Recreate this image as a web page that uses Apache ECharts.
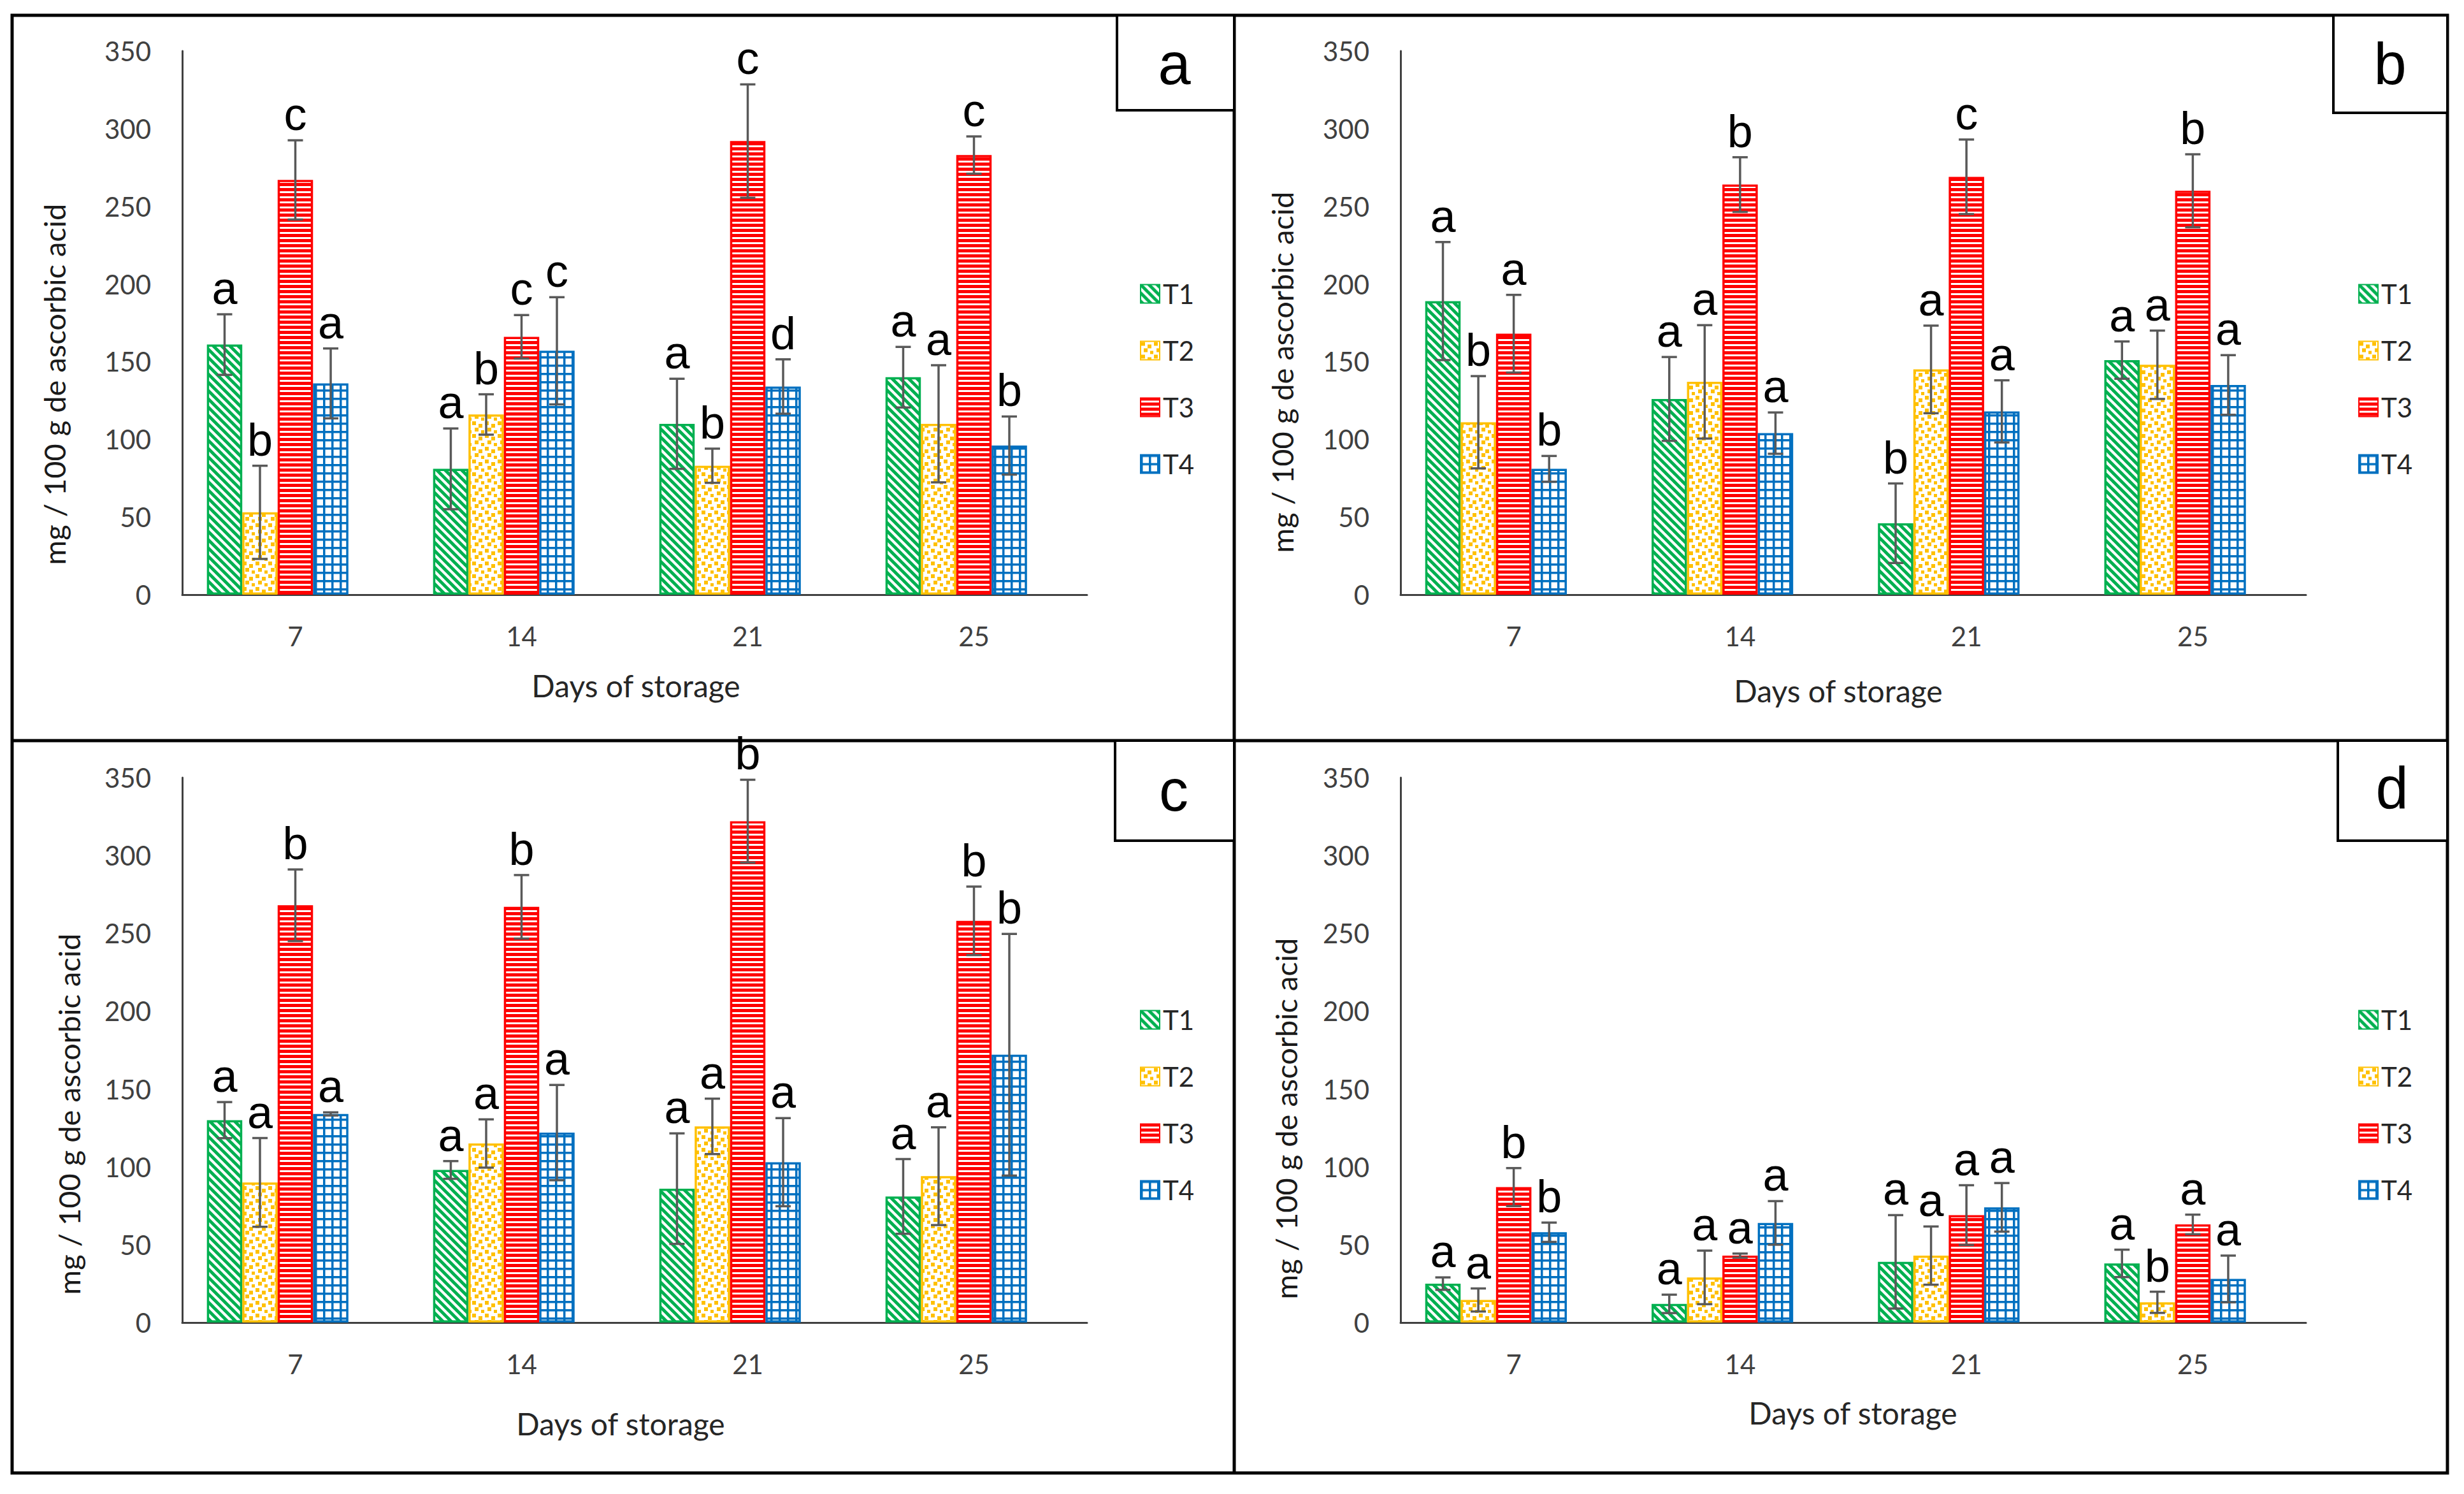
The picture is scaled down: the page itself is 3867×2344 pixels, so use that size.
<!DOCTYPE html>
<html><head><meta charset="utf-8">
<script src="https://cdn.jsdelivr.net/npm/echarts@6/dist/echarts.min.js"></script>
<style>html,body{margin:0;padding:0;background:#fff;overflow:hidden}#c{width:3867px;height:2344px}</style>
</head><body><div id="c"></div>
<script>
// ---------------- DATA ----------------
const days = ['7', '14', '21', '25'];
const treatments = ['T1', 'T2', 'T3', 'T4'];
const panelLetters = ['a', 'b', 'c', 'd'];
const yMin = 0, yMax = 350, yStep = 50;
const yAxisTitle = 'mg / 100 g de ascorbic acid';
const xAxisTitle = 'Days of storage';

// rows = T1..T4, columns = days 7,14,21,25
const panelA_values = [[161, 81, 110, 140], [53, 116, 83, 110], [267, 166, 292, 283], [136, 157, 134, 96]];
const panelA_errors = [[19.5, 26, 29, 19.5], [30, 13, 11, 37.7], [25.5, 14, 36.5, 12], [22.5, 34.5, 17.5, 18.7]];
const panelA_letters = [['a','a','a','a'], ['b','b','b','a'], ['c','c','c','c'], ['a','c','d','b']];

const panelB_values = [[189, 126, 46, 151], [111, 137, 145, 148], [168, 264, 269, 260], [81, 104, 118, 135]];
const panelB_errors = [[38, 27, 25.6, 12], [29.7, 36.5, 28.2, 22], [25, 17.6, 24, 23.5], [8.3, 13.3, 20, 19.2]];
const panelB_letters = [['a','a','b','a'], ['b','a','a','a'], ['a','b','c','b'], ['b','a','a','a']];

const panelC_values = [[130, 98, 86, 81], [90, 115, 126, 94], [268, 267, 322, 258], [134, 122, 103, 172]];
const panelC_errors = [[11.6, 5.7, 35.5, 24], [28.5, 15.5, 17.8, 31.4], [23, 20.4, 26.6, 22], [1, 30.6, 28.3, 77.6]];
const panelC_letters = [['a','a','a','a'], ['a','a','a','a'], ['b','b','b','b'], ['a','a','a','b']];

const panelD_values = [[25, 12, 39, 38], [14.5, 29, 43, 13], [87, 43, 69, 63], [58, 64, 74, 28]];
const panelD_errors = [[4, 5.9, 30, 8.8], [7.4, 17.2, 18.7, 6.8], [12.2, 1.3, 19.2, 6.3], [6.2, 14, 15.6, 15]];
const panelD_letters = [['a','a','a','a'], ['a','a','a','b'], ['b','a','a','a'], ['b','a','a','a']];

// ---------------- STYLE / LAYOUT ----------------
const VALUES = [panelA_values, panelB_values, panelC_values, panelD_values];
const ERRORS = [panelA_errors, panelB_errors, panelC_errors, panelD_errors];
const LETTERS = [panelA_letters, panelB_letters, panelC_letters, panelD_letters];

const SANS = 'Lato';
const ARIAL = '"Liberation Sans", Arial';
const COLORS = ['#00B050', '#FFC000', '#FF0000', '#0070C0'];
const SLOTS = 5;          // original chart reserves an empty 5th slot per group
const CAT_GAP = 0.218;

const GRIDS = [
  {left: 286, top: 80, width: 1420, height: 853},
  {left: 2198, top: 80, width: 1421, height: 853},
  {left: 286, top: 1220, width: 1420, height: 855},
  {left: 2198, top: 1220, width: 1421, height: 855}
];
const LEGEND_POS = [{left: 1789, top: 440}, {left: 3701, top: 440}, {left: 1789, top: 1579}, {left: 3701, top: 1579}];
const YNAME_POS = [[85, 603], [2012, 584], [108, 1748], [2018, 1755]];
const XNAME_POS = [[998, 1075], [2885, 1083], [974, 2233], [2908, 2216]];
const LABEL_BOX = [
  {x: 1753, y: 24, w: 184, h: 149, tx: 1843, ty: 100},
  {x: 3662, y: 24, w: 179, h: 153, tx: 3751, ty: 100},
  {x: 1750, y: 1162, w: 187, h: 157, tx: 1842, ty: 1240},
  {x: 3669, y: 1162, w: 172, h: 157, tx: 3754, ty: 1236}
];

function mk(w, h) { const c = document.createElement('canvas'); c.width = w; c.height = h; return c; }
function patT1() {
  const s = 13, c = mk(s, s), g = c.getContext('2d');
  g.fillStyle = '#fff'; g.fillRect(0, 0, s, s);
  g.strokeStyle = COLORS[0]; g.lineWidth = 5;
  for (let k = -1; k <= 1; k++) { g.beginPath(); g.moveTo(k * s - 3, -3); g.lineTo(k * s + s + 3, s + 3); g.stroke(); }
  return c;
}
function patT2() {
  const s = 20, c = mk(s, s), g = c.getContext('2d');
  g.fillStyle = '#fff'; g.fillRect(0, 0, s, s);
  g.fillStyle = COLORS[1];
  [[1, 1], [11, 5], [5, 11], [15, 15]].forEach(p => g.fillRect(p[0], p[1], 6, 6));
  return c;
}
function patT3() {
  const c = mk(8, 8), g = c.getContext('2d');
  g.fillStyle = COLORS[2]; g.fillRect(0, 0, 8, 8);
  g.fillStyle = '#fff'; g.fillRect(0, 4, 8, 3);
  return c;
}
function patT4() {
  const s = 13, c = mk(s, s), g = c.getContext('2d');
  g.fillStyle = '#fff'; g.fillRect(0, 0, s, s);
  g.fillStyle = COLORS[3]; g.fillRect(0, 0, 3.5, s); g.fillRect(0, 0, s, 3.5);
  return c;
}
const PATS = [patT1(), patT2(), patT3(), patT4()].map(c => ({image: c, repeat: 'repeat', imageWidth: c.width, imageHeight: c.height}));

const grid = [], xAxis = [], yAxis = [], series = [], legend = [];
for (let p = 0; p < 4; p++) {
  grid.push(Object.assign({containLabel: false}, GRIDS[p]));
  xAxis.push({
    type: 'category', gridIndex: p, data: days,
    axisLine: {lineStyle: {color: '#404040', width: 3}}, axisTick: {show: false},
    axisLabel: {fontFamily: SANS, fontSize: 42, color: '#404040', margin: 44}
  });
  yAxis.push({
    type: 'value', gridIndex: p, min: yMin, max: yMax, interval: yStep,
    axisLine: {show: true, lineStyle: {color: '#404040', width: 3}}, axisTick: {show: false},
    splitLine: {show: false},
    axisLabel: {fontFamily: SANS, fontSize: 42, color: '#404040', margin: 49}
  });
  for (let t = 0; t < 4; t++) {
    series.push({
      type: 'bar', name: treatments[t], xAxisIndex: p, yAxisIndex: p,
      data: VALUES[p][t], barGap: '0%', barCategoryGap: (CAT_GAP * 100) + '%',
      itemStyle: {color: PATS[t], borderColor: COLORS[t], borderWidth: 3.5},
      emphasis: {disabled: true}, silent: true, animation: false
    });
  }
  // empty 5th slot (no values), as in the original figure
  series.push({
    type: 'bar', name: 'empty' + p, xAxisIndex: p, yAxisIndex: p,
    data: days.map(() => null), barGap: '0%', barCategoryGap: (CAT_GAP * 100) + '%',
    silent: true, animation: false
  });
  const errData = [], letterList = [];
  for (let t = 0; t < 4; t++) for (let c = 0; c < 4; c++) {
    errData.push([c, VALUES[p][t][c], ERRORS[p][t][c], t]);
    letterList.push(LETTERS[p][t][c]);
  }
  series.push({
    type: 'custom', name: 'err' + p, xAxisIndex: p, yAxisIndex: p, z: 10, silent: true, animation: false,
    data: errData, encode: {x: 0, y: 1},
    renderItem: function (params, api) {
      const cat = api.value(0), v = api.value(1), e = api.value(2), t = api.value(3);
      const band = api.size([1, 0])[0];
      const occ = band * (1 - CAT_GAP);
      const bw = occ / SLOTS;
      const base = api.coord([cat, v]);
      const x = base[0] - occ / 2 + bw * (t + 0.5);
      const yt = api.coord([cat, v + e])[1];
      const yb = api.coord([cat, Math.max(v - e, 0)])[1];
      const cap = 12;
      const ls = {stroke: '#595959', lineWidth: 3.5};
      return {
        type: 'group', children: [
          {type: 'line', shape: {x1: x, y1: yt, x2: x, y2: yb}, style: ls},
          {type: 'line', shape: {x1: x - cap, y1: yt, x2: x + cap, y2: yt}, style: ls},
          {type: 'line', shape: {x1: x - cap, y1: yb, x2: x + cap, y2: yb}, style: ls},
          {type: 'text', x: x, y: yt - 5, style: {text: letterList[params.dataIndex], fill: '#000', font: '72px ' + ARIAL, align: 'center', verticalAlign: 'bottom'}}
        ]
      };
    }
  });
  legend.push(Object.assign({
    orient: 'vertical', data: treatments, icon: 'rect', itemWidth: 30, itemHeight: 29, itemGap: 47,
    padding: 0, selectedMode: false,
    textStyle: {fontFamily: SANS, fontSize: 42, color: '#262626'}
  }, LEGEND_POS[p]));
}

const graphic = [];
graphic.push({type: 'rect', shape: {x: 19, y: 24, width: 3822, height: 2287}, style: {fill: 'none', stroke: '#000', lineWidth: 5}, z: 100});
graphic.push({type: 'line', shape: {x1: 1937, y1: 24, x2: 1937, y2: 2311}, style: {stroke: '#000', lineWidth: 5}, z: 100});
graphic.push({type: 'line', shape: {x1: 19, y1: 1162, x2: 3841, y2: 1162}, style: {stroke: '#000', lineWidth: 5}, z: 100});
for (let p = 0; p < 4; p++) {
  const b = LABEL_BOX[p];
  graphic.push({type: 'rect', shape: {x: b.x, y: b.y, width: b.w, height: b.h}, style: {fill: '#fff', stroke: '#000', lineWidth: 4}, z: 100});
  graphic.push({type: 'text', x: b.tx, y: b.ty, style: {text: panelLetters[p], font: '92px ' + ARIAL, fill: '#000', align: 'center', verticalAlign: 'middle'}, z: 101});
  graphic.push({type: 'text', x: YNAME_POS[p][0], y: YNAME_POS[p][1], rotation: Math.PI / 2,
    style: {text: yAxisTitle, font: '47px ' + SANS, fill: '#1a1a1a', align: 'center', verticalAlign: 'middle'}, z: 100});
  graphic.push({type: 'text', x: XNAME_POS[p][0], y: XNAME_POS[p][1],
    style: {text: xAxisTitle, font: '48px ' + SANS, fill: '#262626', align: 'center', verticalAlign: 'middle'}, z: 100});
}

const chart = echarts.init(document.getElementById('c'), null, {renderer: 'svg', width: 3867, height: 2344});
chart.setOption({backgroundColor: '#fff', animation: false, grid, xAxis, yAxis, series, legend, graphic});
</script>
</body></html>
